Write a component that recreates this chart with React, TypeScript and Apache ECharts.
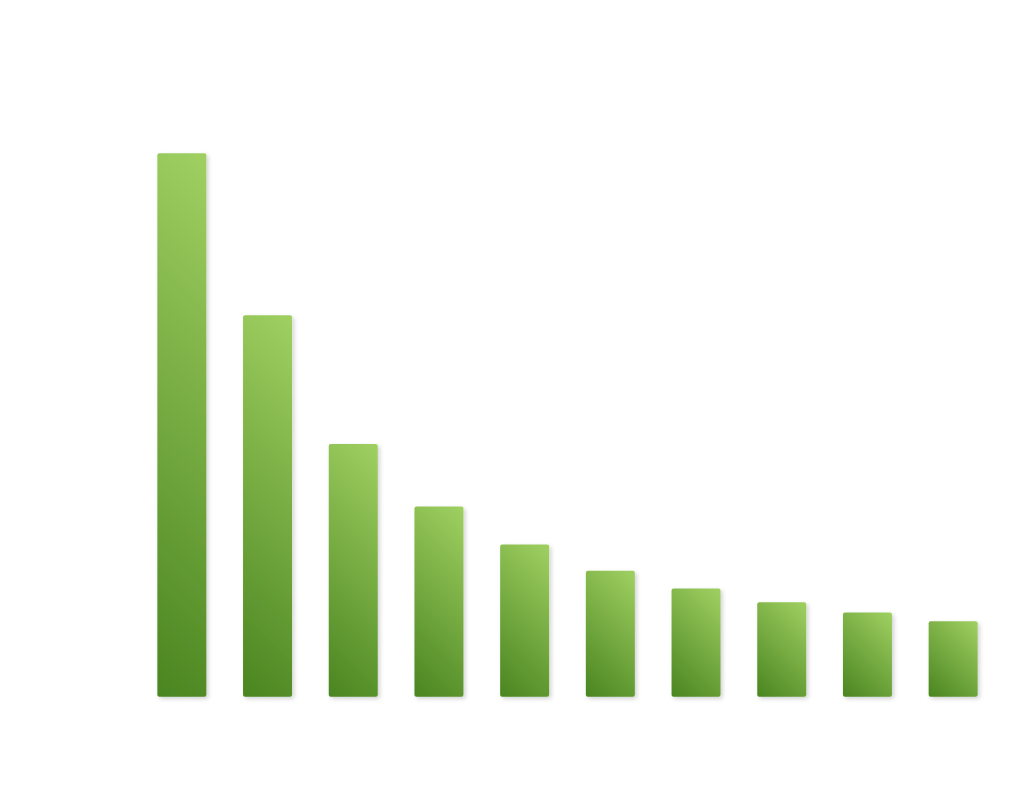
import React, { useEffect, useRef } from "react";
import * as echarts from "echarts";

const categories = ["A", "B", "C", "D", "E", "F", "G", "H", "I", "J"];
const values = [100, 70.2, 46.5, 35.0, 28.0, 23.2, 19.9, 17.4, 15.5, 13.9];

const BAR_WIDTH = 49;
const DARK = "#4a8520";
const LIGHT = "#a0d062";

export default function App() {
  const ref = useRef<HTMLDivElement>(null);
  useEffect(() => {
    if (!ref.current) return;
    const chart = echarts.init(ref.current, null, { renderer: "svg" });
    const baseItemStyle = {
      borderRadius: 2,
      shadowColor: "rgba(0,0,0,0.18)",
      shadowBlur: 4,
      shadowOffsetX: 2,
      shadowOffsetY: 2,
    };
    chart.setOption({
      animation: false,
      backgroundColor: "#ffffff",
      grid: { left: 139, right: 28, top: 153.3, bottom: 115.3 },
      xAxis: { type: "category", data: categories, show: false },
      yAxis: { type: "value", min: 0, max: 100, show: false },
      series: [
        {
          type: "bar",
          data: values,
          barWidth: BAR_WIDTH,
          itemStyle: { ...baseItemStyle, color: DARK },
        },
      ],
    });
    // 45-degree gradient in pixel space, bottom-left (dark) -> top-right (light)
    const data = values.map((v, i) => {
      const top = chart.convertToPixel({ gridIndex: 0 }, [i, v]) as number[];
      const bottom = chart.convertToPixel({ gridIndex: 0 }, [i, 0]) as number[];
      const cx = top[0];
      const x0 = cx - BAR_WIDTH / 2;
      const y1 = bottom[1];
      const h = y1 - top[1];
      const half = (BAR_WIDTH + h) / 2;
      const grad = new echarts.graphic.LinearGradient(
        x0,
        y1,
        x0 + half,
        y1 - half,
        [
          { offset: 0, color: DARK },
          { offset: 1, color: LIGHT },
        ],
        true
      );
      return { value: v, itemStyle: { color: grad } };
    });
    chart.setOption({ series: [{ data }] });
    return () => chart.dispose();
  }, []);
  return (
    <div
      ref={ref}
      style={{ position: "absolute", left: 0, top: 0, width: 1024, height: 812 }}
    />
  );
}
